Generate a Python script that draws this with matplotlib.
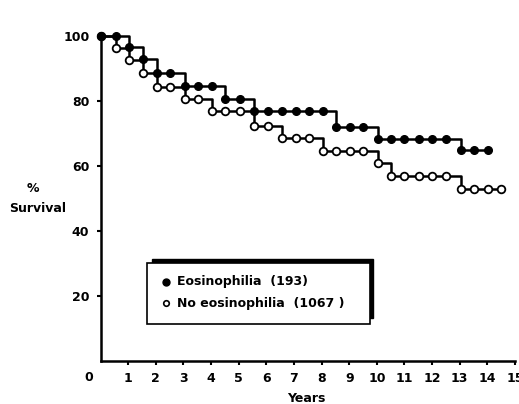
import matplotlib
matplotlib.use("Agg")
import matplotlib.pyplot as plt
from matplotlib.patches import Rectangle

# marker positions (years)
eos_years = [0, 0.55, 1.04, 1.55, 2.04, 2.5, 3.05, 3.54, 4.05, 4.52, 5.05, 5.56,
             6.06, 6.57, 7.07, 7.55, 8.05, 8.53, 9.04, 9.5, 10.03, 10.51, 11.0,
             11.51, 12.0, 12.51, 13.03, 13.51, 14.03]
eos_surv = [100, 100, 96.5, 92.8, 88.5, 88.5, 84.6, 84.6, 84.6, 80.7, 80.7, 77,
            77, 77, 77, 77, 77, 72.1, 72.1, 72.1, 68.3, 68.3, 68.3, 68.3, 68.3,
            68.3, 64.8, 64.8, 64.8]

noeos_years = [0, 0.55, 1.04, 1.55, 2.04, 2.5, 3.05, 3.54, 4.05, 4.52, 5.05, 5.56,
               6.06, 6.57, 7.07, 7.55, 8.05, 8.53, 9.04, 9.5, 10.03, 10.51, 11.0,
               11.51, 12.0, 12.51, 13.03, 13.51, 14.03, 14.5]
noeos_surv = [100, 96.2, 92.6, 88.5, 84.2, 84.2, 80.5, 80.5, 76.9, 76.9, 76.9,
              72.3, 72.3, 68.5, 68.5, 68.5, 64.6, 64.6, 64.6, 64.6, 60.8, 56.9,
              56.9, 56.9, 56.9, 56.9, 52.8, 52.8, 52.8, 52.8]

legend_labels = ["Eosinophilia  (193)", "No eosinophilia  (1067 )"]

plt.rcParams['font.family'] = 'DejaVu Sans'
plt.rcParams['font.weight'] = 'bold'

fig = plt.figure(figsize=(5.19, 4.04), dpi=100)
ax = fig.add_axes([100.5/519, 43/404, 414.5/519, 325/404])

ax.step(noeos_years, noeos_surv, where='post', color='black', lw=1.8, clip_on=False)
ax.step(eos_years, eos_surv, where='post', color='black', lw=1.8, clip_on=False)
ax.plot(noeos_years, noeos_surv, 'o', ms=5.5, mfc='white', mec='black', mew=1.3,
        clip_on=False, zorder=3)
ax.plot(eos_years, eos_surv, 'o', ms=5.5, mfc='black', mec='black',
        clip_on=False, zorder=4)

ax.set_xlim(0, 15)
ax.set_ylim(0, 100)
ax.set_xticks(range(1, 16))
ax.set_yticks([20, 40, 60, 80, 100])
ax.tick_params(axis='both', labelsize=9, width=1.5, length=3, pad=5)
for s in ['top', 'right']:
    ax.spines[s].set_visible(False)
for s in ['left', 'bottom']:
    ax.spines[s].set_linewidth(1.8)

ax.text(-0.43, -3.2, '0', ha='center', va='top', fontsize=9)
ax.text(7.45, -9.5, 'Years', ha='center', va='top', fontsize=9)
fig.text(33/519, 1 - 189/404, '%', ha='center', va='center', fontsize=9)
fig.text(38/519, 1 - 208/404, 'Survival', ha='center', va='center', fontsize=9)

# legend box with shadow
ax.add_patch(Rectangle((1.85, 13.2), 8.01, 18.1, facecolor='black',
                       edgecolor='black', zorder=5))
ax.add_patch(Rectangle((1.67, 11.3), 8.07, 18.9, facecolor='white',
                       edgecolor='black', lw=1.2, zorder=6))
ax.plot(2.38, 24.4, 'o', ms=5, mfc='black', mec='black', zorder=7)
ax.plot(2.38, 17.75, 'o', ms=4, mfc='white', mec='black', mew=1.2, zorder=7)
ax.text(2.76, 24.4, legend_labels[0], va='center', fontsize=9, zorder=7)
ax.text(2.76, 17.75, legend_labels[1], va='center', fontsize=9, zorder=7)

fig.savefig('out.png', dpi=100)
